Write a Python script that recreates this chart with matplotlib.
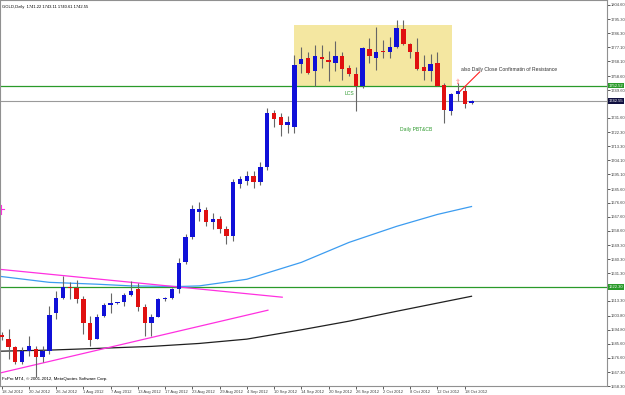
import matplotlib
matplotlib.use('Agg')
import matplotlib.pyplot as plt
from matplotlib.patches import Rectangle
import matplotlib.transforms as mtransforms

plt.rcParams['font.family'] = ['Liberation Sans', 'DejaVu Sans']

# daily OHLC, GOLD, 18 Jul .. 19 Oct 2012
opens = [1591.2, 1589.0, 1583.2, 1573.6, 1581.1, 1582.1, 1576.8, 1581.1, 1605.8, 1615.5,
         1622.3, 1621.9, 1614.4, 1599.3, 1589.0, 1603.6, 1610.5, 1612.0, 1612.7, 1617.2,
         1621.3, 1609.6, 1598.9, 1603.2, 1614.4, 1615.5, 1620.8, 1638.2, 1654.9, 1670.5,
         1672.0, 1664.0, 1666.0, 1660.0, 1655.0, 1689.0, 1691.0, 1694.0, 1690.0, 1700.0,
         1735.0, 1732.0, 1727.0, 1726.0, 1766.6, 1770.6, 1761.6, 1770.9, 1769.1, 1767.0,
         1771.3, 1763.8, 1759.9, 1752.4, 1776.2, 1770.6, 1774.9, 1773.9, 1777.3, 1789.1,
         1779.2, 1774.5, 1764.2, 1761.6, 1767.0, 1753.0, 1736.2, 1747.2, 1749.2, 1741.22]
highs = [1593.0, 1595.0, 1584.3, 1583.2, 1590.3, 1584.3, 1584.3, 1610.1, 1619.8, 1629.4,
         1625.6, 1626.8, 1616.5, 1603.6, 1604.7, 1612.2, 1618.7, 1612.9, 1618.7, 1626.2,
         1625.1, 1611.2, 1604.7, 1615.5, 1616.1, 1621.9, 1641.3, 1656.3, 1675.6, 1677.0,
         1674.0, 1670.0, 1668.0, 1662.0, 1692.0, 1694.0, 1697.0, 1697.0, 1703.0, 1738.0,
         1737.0, 1735.0, 1733.0, 1772.4, 1777.3, 1774.5, 1778.8, 1778.8, 1774.9, 1781.0,
         1774.5, 1765.9, 1764.8, 1777.7, 1783.1, 1790.6, 1782.0, 1784.2, 1794.9, 1794.9,
         1779.9, 1783.1, 1772.4, 1772.8, 1774.5, 1754.1, 1747.7, 1754.1, 1751.9, 1743.11]
lows = [1588.0, 1575.7, 1572.5, 1572.5, 1577.8, 1563.9, 1573.6, 1578.9, 1601.5, 1614.4,
        1614.4, 1612.2, 1591.8, 1584.3, 1588.6, 1602.6, 1605.8, 1611.6, 1610.1, 1616.5,
        1606.9, 1590.7, 1590.3, 1602.6, 1613.3, 1614.8, 1618.7, 1637.0, 1653.1, 1665.0,
        1662.0, 1660.0, 1657.0, 1650.0, 1652.0, 1686.0, 1688.0, 1686.0, 1688.0, 1698.0,
        1726.0, 1720.0, 1722.0, 1722.0, 1760.5, 1759.9, 1751.9, 1763.8, 1755.6, 1761.6,
        1756.2, 1758.4, 1735.8, 1750.9, 1767.0, 1762.7, 1770.2, 1770.2, 1776.7, 1778.8,
        1770.2, 1762.7, 1756.2, 1755.2, 1751.9, 1728.3, 1733.7, 1742.3, 1738.0, 1740.61]
closes = [1589.7, 1583.2, 1573.6, 1581.1, 1583.9, 1576.8, 1581.1, 1604.3, 1615.0, 1622.5,
          1621.7, 1614.4, 1599.3, 1588.1, 1603.2, 1610.5, 1611.8, 1612.3, 1617.0, 1619.8,
          1609.6, 1598.9, 1603.0, 1614.8, 1615.2, 1620.8, 1637.6, 1654.9, 1672.4, 1672.4,
          1664.0, 1666.0, 1660.0, 1655.0, 1690.0, 1692.0, 1694.0, 1690.0, 1700.0, 1735.0,
          1731.0, 1727.0, 1729.0, 1765.9, 1769.8, 1760.5, 1771.3, 1769.8, 1767.6, 1771.9,
          1763.3, 1759.9, 1752.4, 1776.6, 1771.3, 1774.5, 1773.9, 1777.3, 1789.6, 1779.5,
          1774.1, 1763.3, 1761.6, 1766.3, 1752.4, 1736.9, 1747.0, 1749.2, 1740.6, 1742.55]

date_labels = ['18 Jul 2012', '20 Jul 2012', '26 Jul 2012', '1 Aug 2012', '7 Aug 2012',
               '13 Aug 2012', '17 Aug 2012', '23 Aug 2012', '29 Aug 2012', '4 Sep 2012',
               '10 Sep 2012', '14 Sep 2012', '20 Sep 2012', '26 Sep 2012', '2 Oct 2012',
               '8 Oct 2012', '12 Oct 2012', '18 Oct 2012']

price_ticks = [1804.60, 1795.30, 1786.30, 1777.10, 1768.10, 1758.60, 1749.60, 1731.60,
               1722.30, 1713.30, 1704.10, 1695.10, 1685.60, 1676.60, 1667.60, 1658.60,
               1649.30, 1640.30, 1631.30, 1613.30, 1603.80, 1594.80, 1585.60, 1576.60,
               1567.30, 1558.30]

# moving averages, sampled at a few bars
ma_fast_bars = [-0.3, 7, 14, 19, 26, 29, 36, 44, 51, 58, 64, 69]
ma_fast_vals = [1629.2, 1625.3, 1624.1, 1623.0, 1622.6, 1623.0, 1627.3, 1638.2, 1651.1,
                1661.5, 1669.2, 1674.3]
ma_slow_bars = [-0.3, 7, 14, 22, 29, 36, 44, 51, 58, 69]
ma_slow_vals = [1580.8, 1581.5, 1582.6, 1583.9, 1585.8, 1588.6, 1594.6, 1600.2, 1606.6,
                1616.3]

resistance = 1752.52
support = 1622.30
last_price = 1742.55

fig = plt.figure(figsize=(6.25, 3.95), dpi=100)
ax = fig.add_axes([0, 9 / 395, 607 / 625, 386 / 395])
fs = 3.0

n = len(opens)
for i in range(n):
    o, h, l, c = opens[i], highs[i], lows[i], closes[i]
    col = '#1010d8' if c >= o else '#e01010'
    ax.vlines(i, l, h, color='#666666', lw=0.8, zorder=3)
    lo, hi = min(o, c), max(o, c)
    if hi - lo < 0.7:
        hi = lo + 0.7
    ax.add_patch(Rectangle((i - 0.32, lo), 0.64, hi - lo, color=col, lw=0, zorder=4))

# yellow range box
ax.add_patch(Rectangle((42.9, resistance), 23.3, 1791.7 - resistance,
                       facecolor='#f4e7a1', edgecolor='none', zorder=1))

ax.axhline(resistance, color='#2a9a2a', lw=0.9, zorder=2)
ax.axhline(support, color='#2a9a2a', lw=0.9, zorder=2)
ax.axhline(last_price, color='#9a9a9a', lw=0.8, zorder=2)

ax.plot(ma_fast_bars, ma_fast_vals, color='#3c9cf0', lw=0.9, zorder=2)
ax.plot(ma_slow_bars, ma_slow_vals, color='#202020', lw=0.9, zorder=2)

# trend lines
ax.plot([-0.25, 41.2], [1633.7, 1615.7], color='#ff30e0', lw=0.9, zorder=2)
ax.plot([-0.25, 39.1], [1566.7, 1607.3], color='#ff30e0', lw=0.9, zorder=2)
# small magenta anchor mark on the left edge
ax.plot([-0.1, -0.1], [1669.5, 1675.5], color='#ff30e0', lw=0.8, zorder=2)
ax.plot([-0.25, 0.3], [1672.5, 1672.5], color='#ff30e0', lw=0.8, zorder=2)

ax.text(50.3, 1747.2, 'LCS', color='#2e9a2e', fontsize=3.6, va='center')
ax.text(58.5, 1724.0, 'Daily PBT&CB', color='#2e9a2e', fontsize=3.6, va='center')
ax.text(67.5, 1762.7, 'also Daily Close Confirmatin of Resistance', color='#303030',
        fontsize=3.6, va='center')
ax.plot([67.3, 70.2], [1748.7, 1761.3], color='#ff2020', lw=0.8, zorder=5)
ax.text(67.05, 1754.5, '\u21e7', color='#ff6060', fontsize=5, ha='center', va='center',
        family=['DejaVu Sans'])

ax.text(0.004, 0.988, 'GOLD,Daily  1741.22 1743.11 1740.61 1742.55', transform=ax.transAxes,
        fontsize=fs, va='top')
ax.text(0.004, 0.012, 'FxPro MT4, \u00a9 2001-2012, MetaQuotes Software Corp.',
        transform=ax.transAxes, fontsize=3.2, va='bottom')

ax.set_xlim(-0.25, 88.9)
ax.set_ylim(1558.9, 1807.8)

ax.yaxis.tick_right()
ax.set_yticks(price_ticks)
ax.set_yticklabels([f'{p:.2f}' for p in price_ticks])
ax.set_xticks(range(0, 4 * len(date_labels), 4))
ax.set_xticklabels(date_labels, ha='left')
ax.tick_params(axis='both', labelsize=fs, length=2, width=0.6, pad=1, colors='#404040')
for sp in ax.spines.values():
    sp.set_color('#909090')
    sp.set_linewidth(0.8)

tr = mtransforms.blended_transform_factory(ax.transAxes, ax.transData)
for val, bg in [(resistance, '#2a9a2a'), (support, '#2a9a2a'), (last_price, '#101040')]:
    ax.text(1.003, val, f'{val:.2f}', transform=tr, fontsize=fs, color='white',
            va='center', ha='left', clip_on=False,
            bbox=dict(boxstyle='square,pad=0.2', fc=bg, ec='none'))

fig.savefig('out.png', dpi=100)
